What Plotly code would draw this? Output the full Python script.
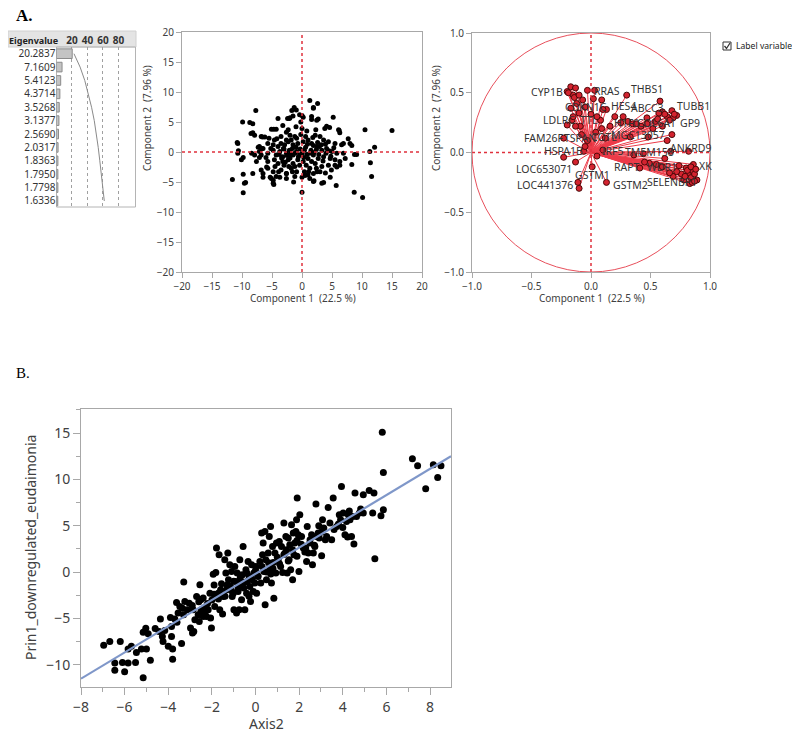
import numpy as np
import plotly.graph_objects as go

# the page puts an 8px body margin round the figure
W, H = 792, 722
OFF = 8

# ---- eigenvalue table ----
eigenvalues = [20.2837, 7.1609, 5.4123, 4.3714, 3.5268, 3.1377,
               2.5690, 2.0317, 1.8363, 1.7950, 1.7798, 1.6336]
n_variables = 90
eig_ticks = [20, 40, 60, 80]

# ---- score plot (component 1 vs component 2) ----
score_pc1 = [15.0, 10.5, 12.1, 11.3, 11.4, 11.6, 10.1, 8.7, 8.75, 9.1, 8.3, 8.3, 7.7, 8.0, 6.9, 6.2, 5.2, 4.6,
             4.1, 3.8, 5.8, 5.7, 4.7, 3.6, 1.3, 2.6, 1.9, 2.7, 1.6, 0.0, 0.2, -0.2, 0.0, -1.3, -1.7, -2.0, -2.4,
             -4.0, -7.7, -9.9, -8.7, -8.2, -8.2, -7.9, -10.8, -10.6, -11.6, -9.8, -9.8, -9.4, -9.8, -8.4, -8.2,
             -7.3, -7.1, -6.7, -6.6, -6.2, -5.9, -6.5, -6.5, -5.3, -5.1, -4.7, -4.3, -4.8, -4.7, -4.2, -3.9, -3.7,
             -3.1, -2.6, -2.6, -1.4, -1.6, 0.0, 0.0, 0.5, 1.1, 1.3, 2.0, 2.5, 2.2,
             -2.1, -1.5, -0.95, -0.4, -2.3, -8.5, -6.8, -4.6, -3.5, -2.6, -1.8, -0.9, -10.7, -7.1, -6.5, -5.7,
             -4.8, -4.0, -3.5, -2.9, -2.3, -1.5, -0.7, 0.2, 1.0, -10.7, -7.9, -7.1, -6.8, -5.7, -4.8, -4.3, -3.7,
             -3.2, -2.6, -2.1, -1.5, -0.9, -0.4, 0.4, 1.3, -10.1, -5.7, -4.6, -4.0, -3.2, -2.3, -1.5, -0.7, 0.2,
             1.0, -6.8, -5.7, -4.8, -3.5, -2.6, -1.8, -0.9, 0.4, 1.3, -5.1, -4.3, -2.6, -1.2, 1.0, -9.6, -4.8,
             1.9, 2.45, 1.6, 6.1, 6.3, 2.2, 3.0, 3.6, 4.4, 5.5, 6.6, 1.6, 2.45, 3.3, 4.1, 5.0, 5.8, 6.9, 1.9, 2.7,
             3.6, 4.7, 5.5, 6.3, 7.2, 3.3, 4.4, 5.5, 6.3, 1.9, 3.0, 1.9, 3.3,
             -3.0, -2.5, -2.0, -1.6, -1.2, -1.0, -0.6, -0.3, 0.0, 0.3, 0.6, 0.8, 1.5, 2.0, 2.4, 2.8, 3.5, 4.0,
             4.5, 3.2, 2.6, 1.8, 0.6, -0.2, -1.2, -2.0, -3.8, -4.5, -3.0, -2.2, -1.2, -0.4, 0.7, 1.6, 2.4, 3.9,
             4.9, -5.2, -6.0, -3.4, -2.8, -1.9, 0.9, 1.9, 2.9, 3.9, 4.8, 5.3, -7.6, -5.5, -1.0, 0.8, 2.3, -3.2]
score_pc2 = [3.6, 3.7, 0.8, 0.1, -1.8, -4.1, -7.6, -6.7, -0.4, -0.4, -2.1, 1.1, 2.2, 1.4, 1.4, 3.6, 5.8, 4.1,
             4.3, 3.9, -2.5, -5.6, -4.2, -5.1, 8.6, 8.1, 7.4, 5.5, 5.4, 6.1, 5.8, 5.0, 3.9, 7.4, 6.9, 5.7, 5.6,
             5.6, 6.9, 5.0, 4.9, 4.7, 3.2, 2.8, 1.6, 0.2, -4.6, -0.9, -3.7, -5.1, -6.8, -0.2, -3.6,
             0.8, -0.9, 0.6, 2.5, 2.5, -2.5, -3.6, -4.2, -4.2, 3.8, 3.8, 3.8, -4.7, -5.4, 2.2, -3.3, -4.2,
             0.6, 3.3, -3.6, -5.0, -3.3, -6.7, -4.2, -3.9, -3.3, -4.4, -4.8, -3.3, -1.9,
             5.6, 6.0, 7.0, 6.2, 3.7, 3.1, 2.6, 2.0, 2.6, 2.0, 2.0, 2.3, 1.4, 0.9, 0.6, 1.4,
             1.2, 0.9, 1.4, 1.2, 1.7, 1.2, 1.4, 1.7, 2.0, -0.2, -0.5, 0.1, -0.5, -0.2, 0.3, -0.5, 0.1,
             -0.8, -0.2, 0.3, -0.5, 0.1, -0.5, 0.3, -0.2, -1.3, -1.6, -1.3, -1.9, -1.6, -1.3, -1.9, -1.3, -1.6,
             -1.1, -3.0, -2.7, -3.3, -3.0, -3.6, -2.7, -3.3, -3.3, -2.7, -4.4, -4.1, -4.4, -4.1, -3.8, -5.2, -5.2,
             7.3, 5.3, 5.9, 3.7, 3.2, 2.8, 2.6, 2.0, 1.7, 1.4, 1.2, 1.4, 0.9, 0.3, 0.6, 0.1, -0.2, -0.2, -0.5, -1.1,
             -0.8, -1.1, -1.3, -1.6, -1.1, -2.4, -2.2, -2.2, -2.2, -3.6, -3.3, -4.9, -5.2,
             0.5, -0.6, -1.0, 0.6, -0.2, 0.8, -0.8, 0.5, -0.2, -0.9, 0.8, -0.4, 0.3, -0.1, 0.4, -0.4, -1.5, -0.2,
             0.2, 1.2, 1.6, 2.4, 2.6, 2.9, 2.6, 2.8, -0.4, -2.4, -2.2, -2.4, -2.4, -2.2, -2.2, -1.6, -2.7, -3.5,
             -3.0, 0.6, -0.9, -1.0, -1.7, -0.3, 1.3, 1.1, 0.9, 1.3, -0.7, 0.7, -1.6, 2.3, 4.2, 3.5, 3.7, 4.4]

# ---- loading plot ----
label_names = ["CYP1B", "RRAS", "THBS1", "CDKN1C", "HES4", "ABCC3", "TUBB1", "LDLRC", "TTL", "H1F0",
               "COL6A1", "GP9", "FAM26F", "TSPAN", "COTL", "MGC13057", "ANKRD9", "HSPA1B", "IRF5",
               "TMEM158", "RAPT", "WDR1", "XK", "LOC653071", "GSTM1", "SELENBP1", "LOC441376", "GSTM2"]
label_pc1 = [-0.20, -0.03, 0.30, -0.17, 0.13, 0.47, 0.68, -0.16, -0.09, 0.16,
             0.54, 0.72, -0.23, -0.03, 0.12, 0.48, 0.82, -0.06, 0.10,
             0.44, 0.41, 0.60, 0.86, -0.13, 0.01, 0.69, -0.11, 0.13]
label_pc2 = [0.51, 0.52, 0.48, 0.37, 0.36, 0.29, 0.35, 0.27, 0.22, 0.22,
             0.26, 0.31, 0.12, 0.10, 0.12, 0.13, 0.01, 0.01, 0.02,
             -0.01, -0.13, -0.12, -0.10, -0.08, -0.12, -0.20, -0.25, -0.25]
other_pc1 = [-0.17, -0.13, -0.15, -0.07, 0.02, 0.09, 0.10, -0.12, -0.13, 0.08, 0.58, 0.27, 0.31, 0.35,
             0.60, 0.64, 0.69, 0.52, 0.68, 0.64, 0.33, 0.67, 0.36, 0.49, 0.80, 0.86, 0.82, 0.89, 0.83,
             0.78, -0.10, -0.23, 0.03, 0.84, 0.87, 0.85, 0.81, 0.76, 0.72, 0.66, 0.55, 0.45, 0.62, 0.74,
             0.79, 0.87, 0.84, 0.88, 0.57, 0.62, 0.66, 0.47, 0.42, 0.38, 0.25, 0.20, 0.56, 0.70, 0.60,
             -0.19, -0.14, -0.10, -0.05, 0.00, 0.05, -0.15, -0.10, -0.20, -0.08, 0.04, 0.09, -0.05, 0.05]
other_pc2 = [0.55, 0.54, 0.48, 0.44, 0.45, 0.44, 0.36, 0.41, 0.22, 0.27, 0.43, 0.30, 0.26, 0.24,
             0.34, 0.30, 0.29, 0.20, 0.15, 0.10, 0.13, 0.01, -0.02, -0.09, -0.13, -0.16, -0.19, -0.23, -0.26,
             -0.23, -0.30, -0.04, 0.52, -0.21, -0.18, -0.25, -0.15, -0.18, -0.16, -0.17, -0.10, -0.08, -0.05, -0.11,
             -0.20, -0.24, -0.12, -0.14, 0.33, 0.32, 0.27, 0.24, 0.22, 0.24, 0.25, 0.30, 0.28, 0.32, 0.22,
             0.50, 0.46, 0.48, 0.38, 0.32, 0.30, 0.30, 0.33, 0.23, 0.15, 0.17, 0.20, 0.05, -0.03]

# ---- panel B ----
axis2 = [-6.96, -6.68, -6.45, -6.45, -6.2, -6.1, -6.0, -5.84, -5.84, -5.69, -5.5, -5.46, -5.23, -5.15, -5.15,
         -5.03, -5.0, -4.92, -4.82, -4.42, -4.36, -4.27, -4.24, -4.16, -4.0, -3.85, -3.85, -3.8, -3.8, -3.39,
         -3.7, -3.62, -3.55, -3.47, -3.35, -3.29, -3.24, -3.13, -3.04, -2.98, -2.89, -2.83, -2.86, -2.78, -2.7,
         -2.63, -2.58, -2.55, -2.51, -2.48, -2.4, -2.32, -2.28, -2.25, -2.17, -2.09, -2.06, -2.02, -1.94, -1.87,
         -1.82, -1.79, -1.71, -1.67, -1.64, -1.56, -1.51, -1.48, -1.41, -1.36, -1.33, -1.27, -1.24, -1.18, -1.15,
         -1.1, -1.07, -1.02, -0.99, -0.95, -0.9, -0.87, -0.84, -0.8, -0.75, -0.72, -0.69, -0.64, -0.6, -0.57,
         -0.54, -0.49, -0.44, -0.41, -0.38, -0.34, -0.29, -0.26, -0.23, -0.18, -0.15, -0.11, -0.08, -0.03, 0.02,
         0.05, 0.12, 0.2, 0.24, 0.28, 0.32, 0.35, 0.38, 0.43, 0.44, 0.47, 0.5, 0.58, 0.63, 0.66, 0.69, 0.73,
         0.78, 0.81, 0.84, 0.89, 0.93, 0.96, 1.04, 1.09, 1.15, 1.19, 1.24, 1.3, 1.35, 1.39, 1.42, 1.45, 1.5,
         1.54, 1.57, 1.61, 1.65, 1.7, 1.73, 1.76, 1.8, 1.85, 1.88, 1.91, 1.96, 1.99, 2.03, 2.11, 2.19, 2.26,
         2.34, 2.37, 2.42, 2.49, 2.57, 2.61, 2.65, 2.72, 2.77, 2.8, 2.87, 2.92, 3.03, 3.07, 3.13, 3.26, 3.33,
         3.41, 3.49, 3.56, 3.72, 3.84, 3.9, 3.94, 4.02, 4.1, 4.17, 4.22, 4.25, 4.33, 4.4, 4.45, 4.51, 4.56,
         4.63, 4.76, 4.82, 4.94, 4.94, 5.21, 5.37, 5.43, 5.47, 5.75, 5.81, 5.86, 5.86, 7.19, 7.43, 7.8, 8.15,
         8.35, 8.5,
         -2.9, -2.6, -2.4, -2.2, -2.0, -1.9, -1.7, -1.6, -1.4, -1.3, -1.1, -1.0, -0.8, -0.7, -0.5, -0.4, -0.2,
         0.0, 0.1, 0.3, 0.5, 0.6, 0.8, 1.0, 1.1, 1.3, 1.5, 1.7, 1.9, 2.1, 2.3, 2.5, 2.7, 3.0, 3.2, 3.6, 3.8,
         -3.3, -3.6, -4.6, -3.9, -0.3, 0.7, 1.9, -1.9, -2.5, 2.9, 4.3, 4.0]
prin1 = [-7.9, -7.5, -9.8, -10.6, -7.5, -9.75, -10.75, -9.8, -8.3, -8.0, -9.75, -8.67, -8.3, -11.4, -6.5,
         -6.05, -8.3, -6.65, -9.5, -6.4, -5.07, -6.94, -7.5, -6.3, -8.0, -5.86, -6.94, -9.4, -8.3, -7.7,
         -5.07, -3.27, -4.42, -3.7, -3.9, -1.08, -3.17, -4.06, -3.35, -6.04, -6.58, -6.4, -4.06, -5.14, -2.63,
         -4.6, -5.32, -1.37, -2.99, -4.06, -4.78, -4.42, -3.7, -4.78, -4.06, -2.27, -4.96, -6.04, -0.22, -3.7,
         -0.04, 2.59, -2.27, 1.87, -4.06, -1.26, -4.53, -2.63, 1.33, -0.11, -1.91, 2.05, -0.83, 0.79, -1.55,
         0.07, -2.63, -2.27, -4.06, 0.61, -1.01, -4.42, -0.11, -2.09, -4.06, 1.33, -1.19, -2.99, -0.29, 2.77,
         -1.73, -4.06, 0.25, -2.27, -1.01, 1.15, -0.47, -1.55, -3.17, 0.79, -0.83, -2.09, -0.11, -1.19, 0.61,
         -2.27, -0.47, 1.15, -1.19, 4.21, 1.87, 3.13, 0.07, 4.39, -3.53, 1.33, -0.83, 2.05, 3.85, 0.43, 4.93, -1.19,
         2.77, 1.04, -2.81, 2.05, -0.11, 3.13, 1.33, 3.31, 0.61, 2.77, -0.04, 5.29, 2.05, 3.85, 2.41, -0.11, 3.67,
         1.33, 2.95, 0.25, 5.11, -0.83, 4.21, 1.87, 3.13, 4.39, 5.65, 7.99, 4.03, 0.07, 6.19, 3.85, 2.59, 2.16,
         1.15, 4.93, 2.05, 3.13, 4.03, 0.79, 2.05, 2.77, 7.34, 3.85, 4.21, 3.67, 1.76, 5.65, 4.75, 3.85, 6.98,
         5.29, 3.49, 7.99, 4.93, 6.19, 5.65, 9.24, 6.37, 4.03, 5.47, 3.78, 6.19, 5.65, 3.85, 6.01, 3.02, 8.53,
         6.01, 6.37, 6.8, 8.35, 6.37, 8.81, 6.37, 8.53, 1.44, 6.08, 15.1, 6.73, 10.76, 12.23, 11.47, 8.99, 11.58,
         10.22, 11.47,
         -3.6, -3.2, -2.8, -3.4, -3.0, -2.4, -2.9, -1.9, -2.6, -1.4, -2.0, -1.0, -1.7, -0.6, -1.1, -0.1, -0.7,
         0.2, -0.4, 0.6, 0.0, 1.0, 0.4, 1.6, 0.9, 1.9, 1.2, 2.4, 1.7, 3.0, 2.6, 3.5, 2.9, 4.3, 3.5, 4.6, 5.2,
         -4.6, -5.4, -6.1, -4.9, -2.6, -0.2, 3.4, -1.4, -4.2, 5.0, 6.6, 4.8]
fit_slope = 1.415
fit_intercept = -0.18


def px(x):
    return (x - OFF) / W


def py(y):
    return 1 - (y - OFF) / H


FONT = "Segoe UI, Noto Sans, sans-serif"
TXT = "#404040"
RED = "#e0303c"

fig = go.Figure()

# eigenvalue bars + cumulative percent curve
rows = list(range(len(eigenvalues)))
cum_pct = np.cumsum(eigenvalues) / n_variables * 100
fig.add_trace(go.Bar(x=eigenvalues, y=rows, orientation="h", width=0.72,
                     marker=dict(color="#c4c4c4", line=dict(color="#8c8c8c", width=1)),
                     xaxis="x", yaxis="y"))
fig.add_trace(go.Scatter(x=cum_pct, y=rows, mode="lines", line=dict(color="#8a8a8a", width=1),
                         xaxis="x", yaxis="y"))

# score plot
fig.add_trace(go.Scatter(x=score_pc1, y=score_pc2, mode="markers",
                         marker=dict(color="black", size=5), xaxis="x2", yaxis="y2"))

# loading plot: rays from origin then points
all_pc1 = label_pc1 + other_pc1
all_pc2 = label_pc2 + other_pc2
ray_x, ray_y = [], []
for a, b in zip(all_pc1, all_pc2):
    ray_x += [0, a, None]
    ray_y += [0, b, None]
fig.add_trace(go.Scatter(x=ray_x, y=ray_y, mode="lines", line=dict(color="#ec3a48", width=1),
                         xaxis="x3", yaxis="y3"))
fig.add_trace(go.Scatter(x=all_pc1, y=all_pc2, mode="markers",
                         marker=dict(color="#d3232f", size=6, line=dict(color="#4a0808", width=1)),
                         xaxis="x3", yaxis="y3"))

# panel B scatter + fit
fig.add_trace(go.Scatter(x=axis2, y=prin1, mode="markers", marker=dict(color="black", size=7),
                         xaxis="x4", yaxis="y4"))
fit_x = np.array([-8, 8.96])
fig.add_trace(go.Scatter(x=fit_x, y=fit_slope * fit_x + fit_intercept, mode="lines",
                         line=dict(color="#7f97c9", width=2.2), xaxis="x4", yaxis="y4"))

small_axis = dict(showline=True, linecolor="#a8a8a8", mirror=True, ticks="outside", ticklen=5,
                  tickcolor="#a8a8a8", zeroline=False, showgrid=False, automargin=False,
                  tickfont=dict(size=10, color=TXT, family=FONT))
big_axis = dict(showline=True, linecolor="#a8a8a8", mirror=True, ticks="outside", ticklen=7,
                tickcolor="#a8a8a8", zeroline=False, showgrid=False, automargin=False,
                tickfont=dict(size=14, color=TXT, family=FONT))

fig.update_layout(
    width=W, height=H, margin=dict(l=0, r=0, t=0, b=0, pad=0, autoexpand=False), showlegend=False,
    plot_bgcolor="white", paper_bgcolor="white", font=dict(family=FONT, color=TXT),
    xaxis=dict(domain=[px(56.5), px(135.5)], range=[0, 102], side="top", anchor="y",
               tickvals=eig_ticks, showgrid=True, gridcolor="#a0a0a0", griddash="dot",
               zeroline=False, ticks="", showline=False, automargin=False,
               tickfont=dict(size=10, color="#333", family=FONT, weight="bold")),
    yaxis=dict(domain=[py(207), py(47)], range=[11.45, -0.5], anchor="x",
               tickvals=rows, ticktext=["%.4f" % e for e in eigenvalues],
               showgrid=False, zeroline=False, ticks="", showline=False, automargin=False,
               tickfont=dict(size=10, color="#333", family=FONT)),
    xaxis2=dict(small_axis, domain=[px(182), px(422)], range=[-20, 20], dtick=5, anchor="y2"),
    yaxis2=dict(small_axis, domain=[py(272), py(32)], range=[-20, 20], dtick=5, anchor="x2"),
    xaxis3=dict(small_axis, domain=[px(472), px(710)], range=[-1, 1], dtick=0.5, tickformat=".1f",
                anchor="y3"),
    yaxis3=dict(small_axis, domain=[py(272), py(33)], range=[-1, 1], dtick=0.5, tickformat=".1f",
                anchor="x3"),
    xaxis4=dict(big_axis, domain=[px(81), px(451)], range=[-8, 8.96], dtick=2, anchor="y4",
                minor=dict(dtick=1, ticks="outside", ticklen=4, tickcolor="#a8a8a8")),
    yaxis4=dict(big_axis, domain=[py(687), py(409)], range=[-12.4, 17.6], dtick=5, anchor="x4",
                minor=dict(dtick=2.5, ticks="outside", ticklen=4, tickcolor="#a8a8a8")),
)

shapes = [
    # eigenvalue header and frame
    dict(type="rect", xref="paper", yref="paper", x0=px(8), x1=px(136), y0=py(47), y1=py(31),
         fillcolor="#e4e4e4", line=dict(color="#d0d0d0", width=1), layer="below"),
    dict(type="rect", xref="paper", yref="paper", x0=px(56.5), x1=px(135.5), y0=py(207), y1=py(47),
         line=dict(color="#b4b4b4", width=1), layer="below"),
    # red reference lines
    dict(type="line", xref="x2", yref="y2", x0=0, x1=0, y0=-20, y1=20, line=dict(color=RED, width=1.5, dash="dot")),
    dict(type="line", xref="x2", yref="y2", x0=-20, x1=20, y0=0, y1=0, line=dict(color=RED, width=1.5, dash="dot")),
    dict(type="line", xref="x3", yref="y3", x0=0, x1=0, y0=-1, y1=1, line=dict(color=RED, width=1.5, dash="dot")),
    dict(type="line", xref="x3", yref="y3", x0=-1, x1=1, y0=0, y1=0, line=dict(color=RED, width=1.5, dash="dot")),
    dict(type="circle", xref="x3", yref="y3", x0=-1, x1=1, y0=-1, y1=1, line=dict(color="#e8505c", width=1)),
    # checkbox
    dict(type="rect", xref="paper", yref="paper", x0=px(723), x1=px(731), y0=py(50), y1=py(42),
         line=dict(color="#333", width=1)),
    dict(type="path", xref="paper", yref="paper",
         path="M %f,%f L %f,%f L %f,%f" % (px(724.5), py(46), px(726.5), py(48.5), px(730), py(43)),
         line=dict(color="#333", width=1.3)),
]
fig.update_layout(shapes=shapes)

ann = []


def text(x, y, s, size=10, anchor="center", **kw):
    d = dict(x=px(x), y=py(y), xref="paper", yref="paper", text=s, showarrow=False,
             xanchor=anchor, yanchor="middle",
             font=dict(size=size, color=kw.pop("color", TXT), family=kw.pop("family", FONT),
                       weight=kw.pop("weight", "normal")))
    d.update(kw)
    ann.append(d)


text(14, 15, "A.", size=17, anchor="left", family="Liberation Serif, Times New Roman, serif",
     weight="bold", color="black")
text(14, 373, "B.", size=15, anchor="left", family="Liberation Serif, Times New Roman, serif",
     color="black")
text(33, 40, "Eigenvalue", size=9, weight="bold", color="#222")
text(303, 298, "Component 1  (22.5 %)", size=10)
text(147, 118, "Component 2  (7.96 %)", size=10, textangle=-90)
text(592, 298, "Component 1  (22.5 %)", size=10)
text(436, 118, "Component 2  (7.96 %)", size=10, textangle=-90)
text(734, 46, "Label variables", size=8.6, anchor="left", color="#222")
text(30, 548, "Prin1_downregulated_eudaimonia", size=14, textangle=-90)
text(266, 723, "Axis2", size=14)

# variable labels on the loading plot, offsets in pixels from their points
label_style = {
    "CYP1B": ("right", -2, 0), "RRAS": ("left", 5, -1), "THBS1": ("left", 2, 6),
    "CDKN1C": ("left", -8, 1), "HES4": ("left", 3, 3), "ABCC3": ("center", 1, 10),
    "TUBB1": ("left", 3, 5), "LDLRC": ("right", 5, 0), "TTL": ("left", -2, 6),
    "H1F0": ("left", 2, 3), "COL6A1": ("center", 1, -2), "GP9": ("left", 1, -8),
    "FAM26F": ("right", 1, 0), "TSPAN": ("center", -7, 3), "COTL": ("center", -1, 1),
    "MGC13057": ("center", -10, 2), "ANKRD9": ("center", 2, 3), "HSPA1B": ("right", 1, 0),
    "IRF5": ("left", -3, -1), "TMEM158": ("center", 6, 2), "RAPT": ("left", -28, 1),
    "WDR1": ("center", 0, 0), "XK": ("left", 4, -2), "LOC653071": ("right", -2, -7),
    "GSTM1": ("center", 0, -8), "SELENBP1": ("center", -1, -6), "LOC441376": ("right", -3, -3),
    "GSTM2": ("left", 5, -3),
}
for name, a, b in zip(label_names, label_pc1, label_pc2):
    anchor, dx, dy = label_style[name]
    ann.append(dict(x=a, y=b, xref="x3", yref="y3", text=name, showarrow=False, xanchor=anchor,
                    yanchor="middle", xshift=dx, yshift=dy,
                    font=dict(size=10.5, color="#333", family=FONT)))

fig.update_layout(annotations=ann)
fig.write_html("out.html")
